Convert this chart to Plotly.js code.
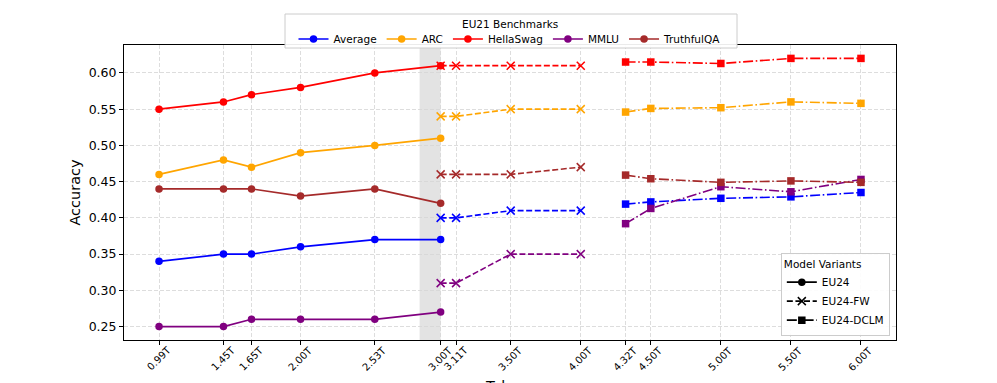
<!DOCTYPE html>
<html>
<head>
<meta charset="utf-8">
<script src="https://cdn.plot.ly/plotly-3.0.1.min.js"></script>
<style>html,body{margin:0;padding:0;background:#fff;}#chart{width:997px;height:383px;}</style>
</head>
<body>
<div id="chart"></div>
<script>
// Data
const benchmarks = ["Average", "ARC", "HellaSwag", "MMLU", "TruthfulQA"];
const colors = ["#0000ff", "#ffa500", "#ff0000", "#800080", "#a52a2a"];

const eu24X = [0.99, 1.45, 1.65, 2.00, 2.53, 3.00];
const eu24Average    = [0.34, 0.35, 0.35, 0.36, 0.37, 0.37];
const eu24ARC        = [0.46, 0.48, 0.47, 0.49, 0.50, 0.51];
const eu24HellaSwag  = [0.55, 0.56, 0.57, 0.58, 0.60, 0.61];
const eu24MMLU       = [0.25, 0.25, 0.26, 0.26, 0.26, 0.27];
const eu24TruthfulQA = [0.44, 0.44, 0.44, 0.43, 0.44, 0.42];

const fwX = [3.00, 3.11, 3.50, 4.00];
const fwAverage    = [0.40, 0.40, 0.41, 0.41];
const fwARC        = [0.54, 0.54, 0.55, 0.55];
const fwHellaSwag  = [0.61, 0.61, 0.61, 0.61];
const fwMMLU       = [0.31, 0.31, 0.35, 0.35];
const fwTruthfulQA = [0.46, 0.46, 0.46, 0.47];

const dclmX = [4.32, 4.50, 5.00, 5.50, 6.00];
const dclmAverage    = [0.419, 0.422, 0.427, 0.429, 0.435];
const dclmARC        = [0.546, 0.551, 0.552, 0.560, 0.558];
const dclmHellaSwag  = [0.615, 0.615, 0.613, 0.620, 0.620];
const dclmMMLU       = [0.392, 0.413, 0.443, 0.436, 0.453];
const dclmTruthfulQA = [0.459, 0.454, 0.449, 0.451, 0.449];

const tickVals = [0.99, 1.45, 1.65, 2.00, 2.53, 3.00, 3.11, 3.50, 4.00, 4.32, 4.50, 5.00, 5.50, 6.00];
const tickText = ["0.99T", "1.45T", "1.65T", "2.00T", "2.53T", "3.00T", "3.11T", "3.50T", "4.00T", "4.32T", "4.50T", "5.00T", "5.50T", "6.00T"];
const yTickVals = [0.25, 0.30, 0.35, 0.40, 0.45, 0.50, 0.55, 0.60];

const variants = ["EU24", "EU24-FW", "EU24-DCLM"];
const variantDash = ["solid", "6px,2.6px", "10px,2.6px,1.6px,2.6px"];
const variantSymbol = ["circle", "x-thin-open", "square"];

const eu24Series = [eu24Average, eu24ARC, eu24HellaSwag, eu24MMLU, eu24TruthfulQA];
const fwSeries = [fwAverage, fwARC, fwHellaSwag, fwMMLU, fwTruthfulQA];
const dclmSeries = [dclmAverage, dclmARC, dclmHellaSwag, dclmMMLU, dclmTruthfulQA];

function marker(sym, c) {
  if (sym === "x-thin-open") return {symbol: sym, size: 8, color: c, line: {color: c, width: 1.5}};
  return {symbol: sym, size: 7.5, color: c, line: {width: 0}};
}

const traces = [];
benchmarks.forEach((b, i) => {
  traces.push({x: eu24X, y: eu24Series[i], mode: "lines+markers", name: b, legend: "legend",
    line: {color: colors[i], width: 1.6, dash: variantDash[0]}, marker: marker(variantSymbol[0], colors[i])});
  traces.push({x: fwX, y: fwSeries[i], mode: "lines+markers", name: b, showlegend: false,
    line: {color: colors[i], width: 1.6, dash: variantDash[1]}, marker: marker(variantSymbol[1], colors[i])});
  traces.push({x: dclmX, y: dclmSeries[i], mode: "lines+markers", name: b, showlegend: false,
    line: {color: colors[i], width: 1.6, dash: variantDash[2]}, marker: marker(variantSymbol[2], colors[i])});
});
variants.forEach((v, j) => {
  traces.push({x: [null], y: [null], mode: "lines+markers", name: v, legend: "legend2",
    line: {color: "black", width: 1.6, dash: variantDash[j]}, marker: marker(variantSymbol[j], "black")});
});

const F = "DejaVu Sans";
const annotations = tickVals.map((v, k) => ({
  x: v, xref: "x", y: 0, yref: "paper", yshift: -2, text: tickText[k], showarrow: false,
  textangle: -45, xanchor: "center", yanchor: "top", font: {family: F, size: 10, color: "#000"}
}));
annotations.push({x: 0.5, xref: "paper", y: 0, yref: "paper", yshift: -36, text: "Tokens",
  showarrow: false, xanchor: "center", yanchor: "top", font: {family: F, size: 14.5, color: "#000"}});
annotations.push({x: 0.5, xref: "paper", y: 1, yref: "paper", yshift: 21, text: "EU21 Benchmarks",
  showarrow: false, xanchor: "center", yanchor: "middle", font: {family: F, size: 10.5, color: "#000"}});

const grid = {showgrid: true, gridcolor: "#d4d4d4", griddash: "4px,2px", gridwidth: 0.8};
const layout = {
  width: 997, height: 383,
  margin: {l: 124, r: 101, t: 45, b: 43},
  paper_bgcolor: "#fff", plot_bgcolor: "#fff",
  font: {family: F, size: 11, color: "#000"},
  xaxis: Object.assign({
    range: [0.74, 6.25], tickmode: "array", tickvals: tickVals, showticklabels: false,
    showline: true, linecolor: "#000", linewidth: 1, mirror: true,
    ticks: "outside", ticklen: 4, tickcolor: "#000", zeroline: false, automargin: false
  }, grid),
  yaxis: Object.assign({
    range: [0.2315, 0.6385], tickmode: "array", tickvals: yTickVals,
    tickformat: ".2f", tickfont: {family: F, size: 12.5, color: "#000"},
    showline: true, linecolor: "#000", linewidth: 1, mirror: true,
    ticks: "outside", ticklen: 4, tickcolor: "#000", zeroline: false,
    title: {text: "Accuracy", font: {family: F, size: 14.5, color: "#000"}, standoff: 4},
    automargin: false
  }, grid),
  shapes: [
    {type: "rect", xref: "x", yref: "paper", x0: 2.85, x1: 3.0, y0: 0, y1: 1,
      fillcolor: "rgba(128,128,128,0.22)", line: {width: 0}, layer: "below"},
    {type: "rect", xref: "paper", yref: "paper", x0: (285 - 124) / 772, x1: (737 - 124) / 772,
      y0: (340 - 48) / 295, y1: (340 - 14) / 295,
      fillcolor: "rgba(255,255,255,0.92)", line: {color: "#cccccc", width: 1}, layer: "above"}
  ],
  annotations: annotations,
  legend: {
    orientation: "h", x: 0.5, xanchor: "center", y: 1.0203, yanchor: "middle", yref: "paper",
    bgcolor: "rgba(0,0,0,0)", borderwidth: 0,
    font: {family: F, size: 10.5, color: "#000"}, itemwidth: 30
  },
  legend2: {
    orientation: "v", x: 0.992, xanchor: "right", y: 0.0136, yanchor: "bottom",
    bgcolor: "rgba(255,255,255,0.9)", bordercolor: "#cccccc", borderwidth: 1,
    font: {family: F, size: 10.5, color: "#000"},
    title: {text: "Model Variants", side: "top", font: {family: F, size: 10.5, color: "#000"}},
    itemwidth: 30
  },
  showlegend: true
};
Plotly.newPlot("chart", traces, layout, {displayModeBar: false, staticPlot: true});
</script>
</body>
</html>
